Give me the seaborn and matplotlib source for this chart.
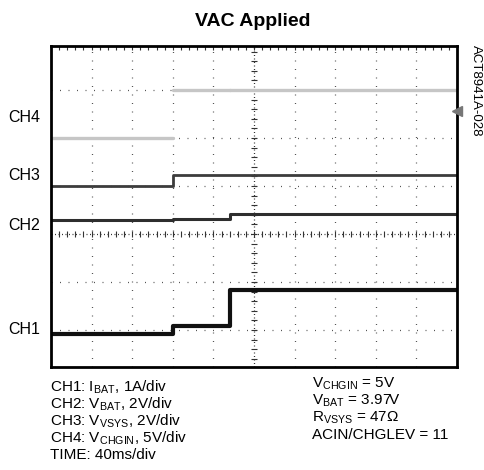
import numpy as np
import pandas as pd
import matplotlib
matplotlib.use("Agg")
import matplotlib.pyplot as plt
import seaborn as sns

# scope capture: time in ms (40 ms/div), levels in screen divisions (0 = centre line)
time_ms = [0, 120, 176, 400]
ch1_div = [-2.08, -1.92, -1.17, -1.17]
ch2_div = [0.29, 0.32, 0.42, 0.42]
ch3_div = [1.01, 1.23, 1.23, 1.23]
ch4_div = [2.0, 3.0, 3.0, 3.0]

channels = ["CH4", "CH3", "CH2", "CH1"]
label_px_y = [117, 175, 225, 330]

left_notes = [
    r"CH1: I$_\mathregular{BAT}$, 1A/div",
    r"CH2: V$_\mathregular{BAT}$, 2V/div",
    r"CH3: V$_\mathregular{VSYS}$, 2V/div",
    r"CH4: V$_\mathregular{CHGIN}$, 5V/div",
    "TIME: 40ms/div",
]
right_notes = [
    r"V$_\mathregular{CHGIN}$ = 5V",
    r"V$_\mathregular{BAT}$ = 3.97V",
    r"R$_\mathregular{VSYS}$ = 47Ω",
    "ACIN/CHGLEV = 11",
]
ref_marker_div = 2.56

sns.set_style("white")
plt.rcParams["font.family"] = ["Liberation Sans", "DejaVu Sans"]
plt.rcParams["text.color"] = "black"

W, H = 485, 470
fig = plt.figure(figsize=(W / 100, H / 100), dpi=100)
ax = fig.add_axes([51 / W, (H - 367) / H, 406 / W, 321 / H])

df = pd.DataFrame({
    "t": time_ms * 3,
    "v": ch3_div + ch2_div + ch1_div,
    "ch": ["CH3"] * 4 + ["CH2"] * 4 + ["CH1"] * 4,
})

# CH4 switches fast, so it shows as separate flat segments with no edge
seg_rows = []
for i in range(len(time_ms) - 1):
    seg_rows.append({"t": time_ms[i], "v": ch4_div[i], "seg": i})
    seg_rows.append({"t": time_ms[i + 1], "v": ch4_div[i], "seg": i})
ch4_df = pd.DataFrame(seg_rows)

sns.lineplot(data=ch4_df, x="t", y="v", units="seg", estimator=None, ax=ax,
             color="#c6c6c6", linewidth=2.4, legend=False)

styles = {
    "CH3": dict(color="#3c3c3c", linewidth=2.0),
    "CH2": dict(color="#2e2e2e", linewidth=2.2),
    "CH1": dict(color="#111111", linewidth=3.0),
}
for ch in ["CH3", "CH2", "CH1"]:
    sns.lineplot(data=df[df["ch"] == ch], x="t", y="v", ax=ax, estimator=None,
                 sort=False, drawstyle="steps-post", legend=False, **styles[ch])

ax.set_xlim(0, 400)
ax.set_ylim((234 - 367) / 48, (234 - 46) / 48)

# graticule
for gx in range(40, 400, 40):
    if gx != 200:
        ax.axvline(gx, color="#555555", lw=0.9, ls=(0, (0.8, 6)), zorder=0)
for gy in [-2, -1, 1, 2, 3]:
    ax.axhline(gy, color="#555555", lw=0.9, ls=(0, (0.8, 6)), zorder=0)
ax.axvline(200, color="#333333", lw=0.9, ls=(0, (0.8, 2)), zorder=0)
ax.axhline(0, color="#333333", lw=0.9, ls=(0, (0.8, 2)), zorder=0)
minor_x = np.arange(8, 400, 8)
minor_y = np.arange(-2.6, 3.9, 0.2)
ax.plot(minor_x, np.zeros_like(minor_x), ls="none", marker="|", ms=5,
        color="#333333", mew=0.8, zorder=0)
ax.plot(np.full_like(minor_y, 200), minor_y, ls="none", marker="_", ms=5,
        color="#333333", mew=0.8, zorder=0)

ax.set_xticks(np.arange(8, 400, 8))
ax.set_yticks([])
ax.tick_params(axis="x", which="both", top=True, bottom=False, direction="in",
               length=3, width=0.8, color="#333333", labelbottom=False)
ax.set_xlabel("")
ax.set_ylabel("")
for s in ax.spines.values():
    s.set_visible(True)
    s.set_color("black")
    s.set_linewidth(2.0)

ax.plot([400], [ref_marker_div], marker="<", ms=7, color="#777777",
        clip_on=False, zorder=5)

fig.text(253 / W, 1 - 22 / H, "VAC Applied", ha="center", va="center",
         fontsize=14, fontweight="bold")

for ch, py in zip(channels, label_px_y):
    fig.text(8 / W, 1 - py / H, ch, ha="left", va="center", fontsize=11.5)

for i, line in enumerate(left_notes):
    fig.text(50 / W, 1 - (387 + 17 * i) / H, line, ha="left", va="center", fontsize=11)
for i, line in enumerate(right_notes):
    fig.text(312 / W, 1 - (384 + 17 * i) / H, line, ha="left", va="center", fontsize=11)

fig.text(476 / W, 1 - 45 / H, "ACT8941A-028", rotation=-90, ha="center", va="top",
         fontsize=9.5)

fig.savefig("out.png", dpi=100)
